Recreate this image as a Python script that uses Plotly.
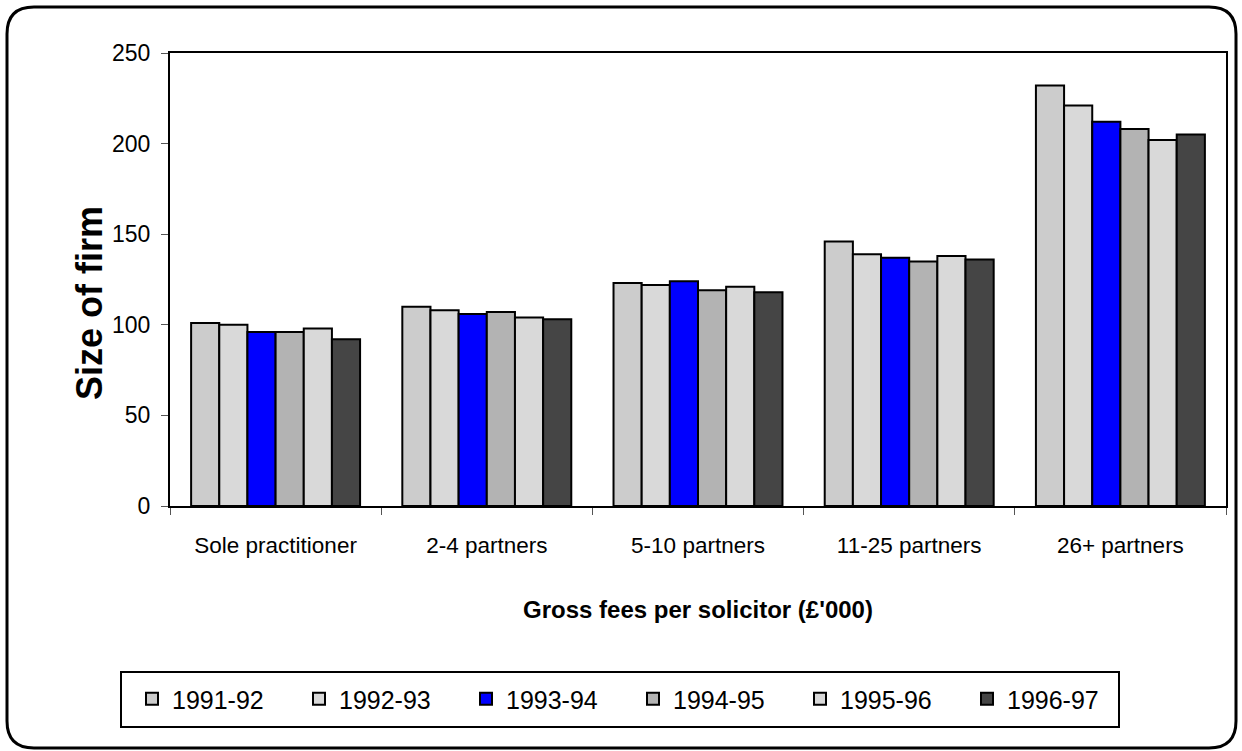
import plotly.graph_objects as go

# Firm size bands (x categories)
categories = ["Sole practitioner", "2-4 partners", "5-10 partners", "11-25 partners", "26+ partners"]

# Gross fees per solicitor (£'000) by year
fees_1991_92 = [101, 110, 123, 146, 232]
fees_1992_93 = [100, 108, 122, 139, 221]
fees_1993_94 = [96, 106, 124, 137, 212]
fees_1994_95 = [96, 107, 119, 135, 208]
fees_1995_96 = [98, 104, 121, 138, 202]
fees_1996_97 = [92, 103, 118, 136, 205]

years = ["1991-92", "1992-93", "1993-94", "1994-95", "1995-96", "1996-97"]
series = [fees_1991_92, fees_1992_93, fees_1993_94, fees_1994_95, fees_1995_96, fees_1996_97]
colors = ["#cccccc", "#d9d9d9", "#0000ff", "#b3b3b3", "#d9d9d9", "#454545"]

W, H = 1242, 751
L, R, T, B = 170, 16, 53, 245
pw, ph = W - L - R, H - T - B


def px(x):
    return (x - L) / pw


def py(y):
    return (H - B - y) / ph


fig = go.Figure()
for name, vals, col in zip(years, series, colors):
    fig.add_trace(go.Bar(
        name=name, x=categories, y=vals,
        marker=dict(color=col, line=dict(color="black", width=2)),
    ))

# rounded frame around the whole chart
x0, x1, y0, y1, r = 7, 1236, 7, 748, 27
path = (
    f"M {px(x0 + r)},{py(y0)} L {px(x1 - r)},{py(y0)} "
    f"Q {px(x1)},{py(y0)} {px(x1)},{py(y0 + r)} "
    f"L {px(x1)},{py(y1 - r)} Q {px(x1)},{py(y1)} {px(x1 - r)},{py(y1)} "
    f"L {px(x0 + r)},{py(y1)} Q {px(x0)},{py(y1)} {px(x0)},{py(y1 - r)} "
    f"L {px(x0)},{py(y0 + r)} Q {px(x0)},{py(y0)} {px(x0 + r)},{py(y0)} Z"
)

font = "Liberation Sans, Arial, sans-serif"
fig.update_layout(
    width=W, height=H,
    margin=dict(l=L, r=R, t=T, b=B),
    paper_bgcolor="white", plot_bgcolor="white",
    barmode="group", bargap=0.2, bargroupgap=0,
    font=dict(family=font, color="black", size=22),
    showlegend=True,
    legend=dict(
        orientation="h", x=px(132), y=py(699), xanchor="left", yanchor="middle",
        borderwidth=0, bgcolor="rgba(0,0,0,0)",
        font=dict(size=25), entrywidth=122, entrywidthmode="pixels",
        traceorder="normal",
    ),
    xaxis=dict(
        showline=True, linecolor="black", linewidth=2, mirror=True,
        ticks="outside", ticklen=7, tickcolor="#555555", tickson="boundaries",
        tickfont=dict(size=22.5), ticklabelstandoff=18,
        title=dict(text="<b>Gross fees per solicitor (£'000)</b>", font=dict(size=24), standoff=44),
    ),
    yaxis=dict(
        range=[0, 250], dtick=50, showgrid=False, zeroline=False,
        showline=True, linecolor="black", linewidth=2, mirror=True,
        ticks="outside", ticklen=7, tickcolor="#555555",
        tickfont=dict(size=23), ticklabelstandoff=6,
    ),
    annotations=[dict(
        text="<b>Size of firm</b>", textangle=-90, showarrow=False,
        xref="paper", yref="paper", x=px(89), y=py(303),
        xanchor="center", yanchor="middle", font=dict(size=36),
    )],
    shapes=[
        dict(type="path", xref="paper", yref="paper", path=path,
             line=dict(color="black", width=3), fillcolor="rgba(0,0,0,0)", layer="above"),
        # legend frame
        dict(type="rect", xref="paper", yref="paper",
             x0=px(121), x1=px(1119), y0=py(672), y1=py(727),
             line=dict(color="black", width=2), fillcolor="rgba(0,0,0,0)"),
    ],
)

fig.write_html("out.html")
